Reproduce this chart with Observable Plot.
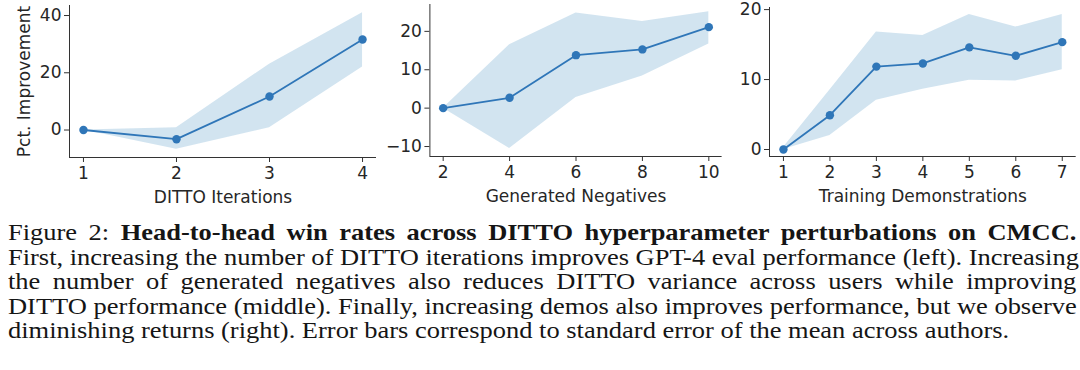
<!DOCTYPE html>
<html><head><meta charset="utf-8">
<script src="https://cdn.jsdelivr.net/npm/d3@7"></script>
<script src="https://cdn.jsdelivr.net/npm/@observablehq/plot@0.6"></script>
<style>
body{margin:0;background:#fff;width:1080px;height:370px;overflow:hidden;position:relative}
#charts{position:absolute;left:0;top:0;width:1080px;height:210px}
#charts svg{position:absolute;top:0;overflow:visible}
#caption{position:absolute;left:8px;top:221px;width:929px;transform:scaleX(1.15);transform-origin:0 0;font-family:"Liberation Serif","Times New Roman",serif;font-size:23px;line-height:24.6px;color:#151515}
#caption div{white-space:nowrap}
#caption .j{text-align:justify;text-align-last:justify}
</style></head>
<body>
<div id="charts"></div>
<div id="caption"></div>
<script>
// Panel 1: DITTO Iterations
const iterX = [1, 2, 3, 4];
const iterMean = [0, -3.2, 11.7, 31.6];
const iterLow = [0, -6.7, 0.8, 22];
const iterHigh = [0, 0.8, 23, 41];
const iterTicksX = [1, 2, 3, 4];
const iterTicksY = [0, 20, 40];

// Panel 2: Generated Negatives
const negX = [2, 4, 6, 8, 10];
const negMean = [0, 2.7, 13.8, 15.3, 21.1];
const negLow = [0, -10.5, 2.8, 8.4, 16.7];
const negHigh = [0, 16.5, 24.8, 22.6, 25.1];
const negTicksX = [2, 4, 6, 8, 10];
const negTicksY = [-10, 0, 10, 20];

// Panel 3: Training Demonstrations
const demoX = [1, 2, 3, 4, 5, 6, 7];
const demoMean = [0, 4.9, 11.85, 12.3, 14.6, 13.4, 15.35];
const demoLow = [0, 2.0, 7.05, 8.6, 9.9, 9.8, 11.4];
const demoHigh = [0.3, 8.5, 16.8, 16.3, 19.3, 17.5, 19.3];
const demoTicksX = [1, 2, 3, 4, 5, 6, 7];
const demoTicksY = [0, 10, 20];

const xLabels = ["DITTO Iterations", "Generated Negatives", "Training Demonstrations"];
const yLabel = "Pct. Improvement";

const captionLines = [
  'Figure 2: <b>Head-to-head win rates across DITTO hyperparameter perturbations on CMCC.</b>',
  'First, increasing the number of DITTO iterations improves GPT-4 eval performance (left). Increasing',
  'the number of generated negatives also reduces DITTO variance across users while improving',
  'DITTO performance (middle). Finally, increasing demos also improves performance, but we observe',
  'diminishing returns (right). Error bars correspond to standard error of the mean across authors.'
];

const LINE = "#2f76b8", BAND = "#1f77b4", INK = "#262626";

function panel(cfg) {
  const data = cfg.xs.map((x, i) => ({x, y: cfg.ys[i], lo: cfg.lo[i], hi: cfg.hi[i]}));
  const svg = Plot.plot({
    width: cfg.width, height: 210,
    marginLeft: cfg.mL, marginRight: cfg.mR, marginTop: cfg.mT, marginBottom: 210 - cfg.bottom,
    style: {fontFamily: "DejaVu Sans", fontSize: "17px", color: INK, background: "transparent"},
    x: {domain: cfg.xDomain},
    y: {domain: cfg.yDomain},
    marks: [
      Plot.areaY(data, {x: "x", y1: "lo", y2: "hi", fill: BAND, fillOpacity: 0.2}),
      Plot.line(data, {x: "x", y: "y", stroke: LINE, strokeWidth: 1.8}),
      Plot.dot(data, {x: "x", y: "y", r: 4.2, fill: LINE}),
      Plot.ruleY([cfg.yDomain[0]], {stroke: "#333", strokeWidth: 1}),
      Plot.ruleX([cfg.xDomain[0]], {stroke: "#333", strokeWidth: 1}),
      Plot.axisX({ticks: cfg.xTicks, tickFormat: d => String(d), tickSize: 5, tickPadding: 4, stroke: "#333",
        label: cfg.xLabel, labelAnchor: "center", labelOffset: 45, labelArrow: "none"}),
      Plot.axisY({ticks: cfg.yTicks, tickSize: 5, tickPadding: 3, stroke: "#333",
        label: cfg.yLabel, labelAnchor: "center", labelOffset: 52, labelArrow: "none"})
    ]
  });
  svg.style.left = cfg.left + "px";
  document.getElementById("charts").appendChild(svg);
}

panel({xs: iterX, ys: iterMean, lo: iterLow, hi: iterHigh,
  xDomain: [0.85, 4.15], yDomain: [-9.6, 43.5], xTicks: iterTicksX, yTicks: iterTicksY,
  xLabel: xLabels[0], yLabel: yLabel, left: 0, width: 380, mL: 69, mR: 4, mT: 5, bottom: 157});
panel({xs: negX, ys: negMean, lo: negLow, hi: negHigh,
  xDomain: [1.6, 10.4], yDomain: [-12.6, 27], xTicks: negTicksX, yTicks: negTicksY,
  xLabel: xLabels[1], yLabel: null, left: 380, width: 345, mL: 49.4, mR: 3.4, mT: 4, bottom: 156});
panel({xs: demoX, ys: demoMean, lo: demoLow, hi: demoHigh,
  xDomain: [0.7, 7.3], yDomain: [-1, 20.3], xTicks: demoTicksX, yTicks: demoTicksY,
  xLabel: xLabels[2], yLabel: null, left: 725, width: 355, mL: 44, mR: 4.3, mT: 7, bottom: 156});

const cap = document.getElementById("caption");
captionLines.forEach((t, i) => {
  const d = document.createElement("div");
  d.innerHTML = t;
  if (i < captionLines.length - 1) d.className = "j";
  cap.appendChild(d);
});
</script>
</body></html>
